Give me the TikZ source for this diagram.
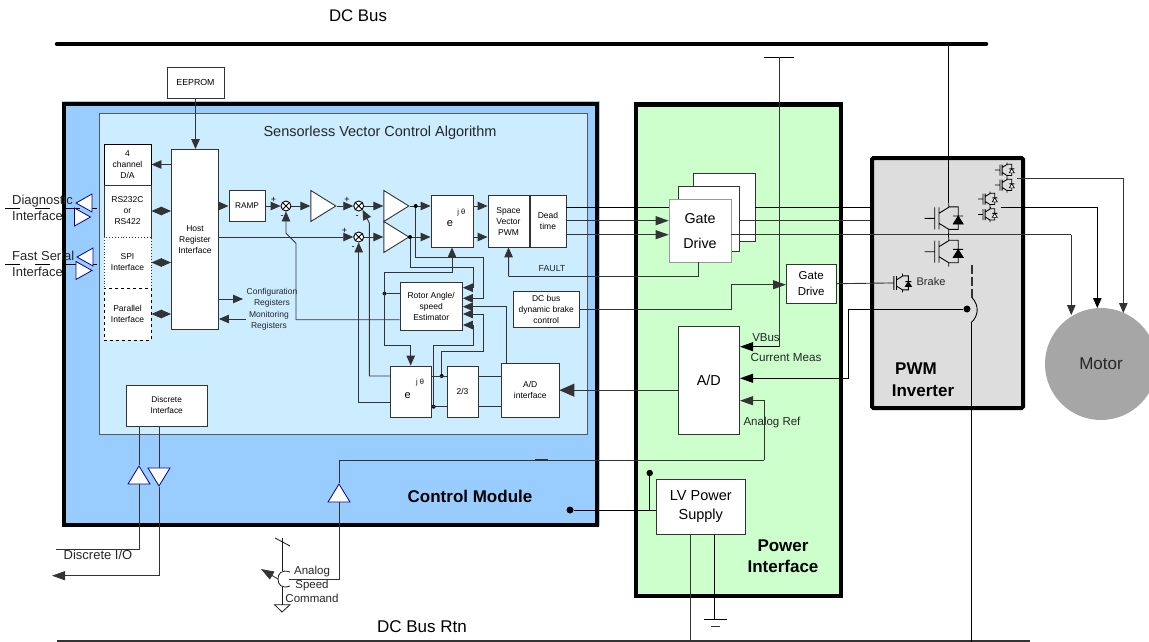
\documentclass[tikz,border=0pt]{standalone}
\usepackage{fontspec}
\setmainfont{Liberation Sans}
\usetikzlibrary{arrows.meta,shapes.geometric}
\definecolor{modulefill}{HTML}{99CCFF}
\definecolor{algofill}{HTML}{CCECFF}
\definecolor{powerfill}{HTML}{CCFFCC}
\definecolor{inverterfill}{HTML}{DDDDDD}
\definecolor{motorfill}{HTML}{A6A6A6}
\definecolor{bufline}{HTML}{000099}
\definecolor{wire}{HTML}{333333}
\tikzset{
    block/.style={rectangle,draw=black!80,line width=.9pt,fill=white,inner sep=0pt,align=center,font=\fontsize{8.5}{11}\selectfont},
    frame/.style={rectangle,draw=black,line width=4.5pt,inner sep=0pt},
    caption/.style={inner sep=0pt,align=center,text=black!85,font=\fontsize{8.5}{11}\selectfont},
    title/.style={inner sep=0pt,align=center,font=\bfseries\fontsize{17}{21}\selectfont},
    amp/.style={isosceles triangle,isosceles triangle stretches,draw=black!80,line width=.9pt,fill=white,inner sep=0pt,minimum height=25pt,minimum width=31pt},
    buf/.style={isosceles triangle,isosceles triangle stretches,draw=bufline,line width=.8pt,fill=white,inner sep=0pt,minimum height=18pt,minimum width=22pt},
    sumj/.style={circle,draw=black,line width=.9pt,fill=white,minimum size=10pt,inner sep=0pt,
        path picture={\draw[line width=.8pt] (path picture bounding box.north west) -- (path picture bounding box.south east)
            (path picture bounding box.north east) -- (path picture bounding box.south west);}},
    sign/.style={inner sep=0pt,font=\fontsize{9}{10}\selectfont},
    dot/.style={circle,fill=black,minimum size=#1,inner sep=0pt},
    dot/.default=4pt,
    sig/.style={draw=wire,line width=.9pt},
    pre/.style={sig,-{Triangle[length=10pt,width=8.5pt]}},
    prelong/.style={sig,-{Triangle[length=13pt,width=9pt]}},
    prebig/.style={sig,-{Triangle[length=15pt,width=13pt]}},
    bi/.style={sig,{Triangle[length=10pt,width=8.5pt]}-{Triangle[length=10pt,width=8.5pt]}},
    igbt/.pic={
        \coordinate (-g) at (-20,0);
        \coordinate (-c) at (4,-15);
        \coordinate (-e) at (4,15);
        \draw[line width=.9pt,black] (-g) -- (-10,0) (-10,-11) -- (-10,11) (-5.7,-11) -- (-5.7,11)
            (-5.7,-5) -- (4,-11) -- (-c) (-5.7,5) -- (4,11) -- (-e)
            (4,-11.5) -- (13.5,-11.5) -- (13.5,11) -- (4,11)
            (8.5,-2.3) -- (18.5,-2.3);
        \draw[line width=.7pt,pic actions] (13.5,-2.3) -- (18.5,5.7) -- (8.5,5.7) -- cycle;
    }
}
\begin{document}
\begin{tikzpicture}[x=1pt,y=-1pt]
    \useasboundingbox (0,0) rectangle (1149,642);

    \coordinate (busA) at (57,44);
    \coordinate (busB) at (986,44);
    \coordinate (rtnA) at (57,641);
    \coordinate (rtnB) at (1030,641);
    \draw[line width=4.5pt,line cap=round] (busA) -- (busB);
    \draw[line width=1.5pt,black!80] (rtnA) -- (rtnB);
    \node[inner sep=0pt,font=\fontsize{16.8}{18}\selectfont] (busname) at (358,16) {DC Bus};
    \node[inner sep=0pt,font=\fontsize{17}{18}\selectfont] (rtnname) at (422,627) {DC Bus Rtn};

    % control module
    \fill[modulefill] (62,101) rectangle (600,526);
    \node[frame,minimum width=533pt,minimum height=421pt] (module) at (330.5,314.5) {};
    \node[rectangle,draw=black!65,line width=1pt,fill=algofill,minimum width=488pt,minimum height=321pt,inner sep=0pt] (algo) at (343,273.5) {};
    \node[inner sep=0pt,text=black!85,font=\fontsize{14.5}{16}\selectfont] (algoname) at (380,133) {Sensorless Vector Control Algorithm};
    \node[title] (modulename) at (470,496) {Control Module};

    \node[block,minimum width=57pt,minimum height=31pt,font=\fontsize{8.8}{10}\selectfont] (eeprom) at (195.5,82.5) {EEPROM};
    \node[block,minimum width=47pt,minimum height=41pt,draw=black] (da) at (127.5,164.5) {4\\channel\\D/A};
    \node[block,minimum width=47pt,minimum height=52pt] (rs) at (127.5,211) {RS232C\\or\\RS422};
    \node[block,minimum width=47pt,minimum height=51pt,dotted] (spi) at (127.5,262.5) {SPI\\Interface};
    \node[block,minimum width=47pt,minimum height=52pt,dashed,draw=black] (par) at (127.5,314) {Parallel\\Interface};
    \node[block,minimum width=47pt,minimum height=180pt] (host) at (195,239.5) {Host\\Register\\Interface};
    \node[block,minimum width=36pt,minimum height=31pt,font=\fontsize{8.3}{10}\selectfont] (ramp) at (247,206) {RAMP};
    \node[sumj] (sumA) at (286,206) {};
    \node[amp,anchor=apex] (gainA) at (337,206) {};
    \node[sumj] (sumB) at (358.7,206) {};
    \node[sumj] (sumC) at (358.7,237) {};
    \node[amp,anchor=apex] (gainB) at (410,206) {};
    \node[amp,anchor=apex] (gainC) at (410,237) {};
    \node[block,minimum width=42pt,minimum height=51.5pt] (parkA) at (452,221.2) {};
    \node[block,minimum width=41pt,minimum height=51.5pt] (svm) at (508.5,221.2) {Space\\Vector\\PWM};
    \node[block,minimum width=36pt,minimum height=51.5pt] (dead) at (548,221.2) {Dead\\time};
    \node[block,minimum width=62.5pt,minimum height=47.5pt] (est) at (431.2,306.2) {Rotor Angle/\\speed\\Estimator};
    \node[block,minimum width=65.5pt,minimum height=36pt] (brake) at (546.2,309) {DC bus\\dynamic brake\\control};
    \node[block,minimum width=41.5pt,minimum height=51pt] (parkB) at (410.7,391.5) {};
    \node[block,minimum width=31pt,minimum height=51pt] (ratio) at (462.5,391.5) {2/3};
    \node[block,minimum width=57.5pt,minimum height=53.5pt] (adi) at (530.2,390.2) {A/D\\interface};
    \node[block,minimum width=81.5pt,minimum height=41pt,font=\fontsize{8.3}{11}\selectfont] (discrete) at (166.7,405.5) {Discrete\\Interface};

    \node[inner sep=0pt,font=\fontsize{11}{12}\selectfont] (eA) at (450,224) {e};
    \node[inner sep=0pt,font=\fontsize{7.5}{8}\selectfont] (thetaA) at (461.3,212.3) {j θ};
    \node[inner sep=0pt,font=\fontsize{11}{12}\selectfont] (eB) at (407.7,395.3) {e};
    \node[inner sep=0pt,font=\fontsize{7.5}{8}\selectfont] (thetaB) at (420,382.3) {j θ};

    \node[caption] (cfg) at (272,297.5) {Configuration\\Registers};
    \node[caption] (mon) at (269,321) {Monitoring\\Registers};
    \node[caption,font=\fontsize{8.8}{10}\selectfont] (fault) at (552,269) {FAULT};

    \node[sign] (pA) at (273.5,200) {+};
    \node[sign] (mA) at (282,217) {-};
    \node[sign] (pB) at (347,200) {+};
    \node[sign] (mB) at (357,217) {-};
    \node[sign] (pC) at (344.6,231) {+};
    \node[sign] (mC) at (353,248) {-};

    \draw[pre] (eeprom.south) -- (eeprom.south |- host.north);
    \draw[pre] (host.west |- da.east) -- (da.east);
    \draw[bi] (rs.east) -- (host.west |- rs.east);
    \draw[bi] (spi.east) -- (host.west |- spi.east);
    \draw[bi] (par.east) -- (host.west |- par.east);
    \draw[pre] (host.east |- ramp.west) -- (ramp.west);
    \draw[pre] (ramp.east) -- (sumA.west);
    \draw[pre] (sumA.east) -- (gainA.west);
    \draw[pre] (gainA.east) -- (sumB.west);
    \draw[pre] (sumB.east) -- (gainB.west);
    \draw[pre] (host.east |- sumC.west) -- (sumC.west);
    \draw[pre] (sumC.east) -- (gainC.west);
    \draw[pre] (gainB.east) -- (parkA.west |- gainB.east);
    \draw[pre] (gainC.east) -- (parkA.west |- gainC.east);
    \draw[pre] (parkA.east |- gainB.east) -- (svm.west |- gainB.east);
    \draw[pre] (parkA.east |- gainC.east) -- (svm.west |- gainC.east);
    \draw[pre] (host.east |- 243,299) -- (243,299);
    \draw[pre] (246,319) -- (host.east |- 246,319);

    \node[dot=4pt] (tapA) at (415.7,206) {};
    \node[dot=4pt] (tapB) at (410,237) {};
    \node[dot=4pt] (tapC) at (384.5,293.5) {};
    \node[dot=4pt] (tapD) at (441.7,376) {};
    \node[dot=4pt] (tapE) at (433.7,406.7) {};
    \draw[pre] (tapA) |- (483.3,257.7) |- (est.east |- 483,298.3);
    \draw[pre] (tapB) |- (473.3,267.7) |- (est.east |- 473,287.7);
    \draw[pre] (384.3,345) -- (410.7,345) -- (parkB.north -| 410.7,345);
    \draw[pre] (384.3,345) |- (452,272.7) -- (parkA.south);
    \draw[sig] (tapC) -- (est.west |- tapC);
    \draw[pre] (est.west |- 400,319.7) -- (296,319.7) -- (296,243.3) -- (286,233.3) -- (sumA.south);
    \draw[pre] (parkB.west |- 390,376) -- (369.3,376) -- (369.3,223) -- (sumB.south east);
    \draw[pre] (parkB.west |- 390,402) -| (sumC.south);
    \draw[sig] (parkB.east |- tapD) -- (ratio.west |- tapD);
    \draw[sig] (parkB.east |- tapE) -- (ratio.west |- tapE);
    \draw[sig] (ratio.east |- tapD) -- (adi.west |- tapD);
    \draw[sig] (ratio.east |- tapE) -- (adi.west |- tapE);
    \draw[pre] (tapD) |- (483.3,351) |- (est.east |- 483,314);
    \draw[pre] (tapE) |- (473.3,345) |- (est.east |- 473,325);
    \draw[pre] (adi.north -| 506.7,363) |- (est.east |- 506,306.7);

    \node[inner sep=0pt,anchor=west,align=left,text=black!85,font=\fontsize{13}{16}\selectfont] (diagname) at (12,208) {Diagnostic\\Interface};
    \node[inner sep=0pt,anchor=west,align=left,text=black!85,font=\fontsize{13}{16}\selectfont] (fastname) at (12,264) {Fast Serial\\Interface};
    \coordinate (diagend) at (5,208);
    \coordinate (fastend) at (5,264);
    \coordinate (diagstub) at (97,208);
    \coordinate (faststub) at (97,264);
    \draw[black,line width=.9pt,dash pattern=on 15pt off 15pt] (diagend) -- (diagstub);
    \draw[black,line width=.9pt,dash pattern=on 15pt off 15pt] (fastend) -- (faststub);
    \draw[black,line width=.9pt] (diagstub) -- ++(-6,0);
    \draw[black,line width=.9pt] (faststub) -- ++(-6,0);
    \node[buf,shape border rotate=180,anchor=apex,minimum height=16pt,minimum width=18pt] (diagL) at (75,203) {};
    \node[buf,anchor=apex,minimum height=16pt,minimum width=18pt] (diagR) at (91.5,217) {};
    \node[buf,shape border rotate=180,anchor=apex,minimum height=16pt,minimum width=18pt] (fastL) at (76,257) {};
    \node[buf,anchor=apex,minimum height=16pt,minimum width=18pt] (fastR) at (93,270.5) {};

    \node[buf,shape border rotate=90,anchor=apex] (ioUp) at (139,465) {};
    \node[buf,shape border rotate=270,anchor=apex] (ioDn) at (159,487) {};
    \node[buf,shape border rotate=90,anchor=apex] (refUp) at (339,483) {};
    \coordinate (ioA) at (56,549.3);
    \coordinate (ioB) at (52,575.7);
    \draw[sig] (discrete.south -| ioUp) -- (ioUp.north);
    \draw[sig] (ioUp.south) |- (ioA);
    \draw[sig] (discrete.south -| ioDn) -- (ioDn.north);
    \draw[prelong] (ioDn.south) |- (ioB);
    \node[inner sep=0pt,text=black!85,font=\fontsize{13}{14}\selectfont] (ioname) at (98,555) {Discrete I/O};

    % analog speed command
    \coordinate (potTop) at (282,538);
    \coordinate (potA) at (282,571);
    \coordinate (potB) at (282,587);
    \coordinate (potEnd) at (282,605);
    \coordinate (potWiper) at (278,579);
    \coordinate (potArrow) at (261,569);
    \coordinate (potOut) at (289,579.3);
    \draw[line width=.8pt,black!90] (potTop) -- (potA) (potB) -- (potEnd);
    \draw[line width=.8pt,black!90] (275,538) -- (290,546);
    \draw[line width=.8pt,black!90] (290,572) .. controls (281,569) and (278,574) .. (278,579) .. controls (278,585) and (282,589) .. (290,586);
    \draw[prelong] (potWiper) -- (potArrow);
    \draw[line width=.8pt,black!90] (274.5,604.7) -- (290,604.7) -- (282,612) -- cycle;
    \draw[sig] (refUp.south) |- (potOut);
    \node[caption,font=\fontsize{11.5}{14}\selectfont] (cmdname) at (312,584) {Analog\\Speed\\Command};

    % power interface
    \node[frame,fill=powerfill,minimum width=205pt,minimum height=491.5pt] (power) at (738.5,350) {};
    \node[title] (powername) at (783,556.5) {Power\\Interface};
    \node[block,minimum width=61.5pt,minimum height=68.5pt] (gateC) at (724.2,207.2) {};
    \node[block,minimum width=61.5pt,minimum height=65pt] (gateB) at (708.8,218.5) {};
    \node[block,minimum width=62pt,minimum height=62.5pt,draw=black!40,line width=.6pt,text=black,font=\fontsize{14.3}{25}\selectfont] (gateA) at (700,230.7) {Gate\\Drive};
    \node[block,minimum width=49.5pt,minimum height=39.5pt,font=\fontsize{11.5}{16}\selectfont] (gateS) at (811.2,283.7) {Gate\\Drive};
    \node[block,minimum width=61.5pt,minimum height=108pt,font=\fontsize{14.4}{16}\selectfont] (ad) at (708.8,380) {A/D};
    \node[block,minimum width=88.5pt,minimum height=54.5pt,font=\fontsize{14.5}{19}\selectfont] (lvps) at (700.8,507) {LV Power\\Supply};
    \node[caption,font=\fontsize{11.5}{12}\selectfont] (vbusname) at (766,338) {VBus};
    \node[caption,font=\fontsize{11.7}{12}\selectfont] (measname) at (786,357) {Current Meas};
    \node[caption,font=\fontsize{11.5}{12}\selectfont] (refname) at (772,423) {Analog Ref};

    \draw[sig,black] (dead.east |- 566,207.3) -- (gateA.west |- 566,207.3);
    \draw[prelong] (dead.east |- 566,220.7) -- (gateA.west |- 566,220.7);
    \draw[prelong] (dead.east |- 566,234.7) -- (gateA.west |- 566,234.7);
    \draw[pre] (508.7,276.7) -- (svm.south);
    \draw[sig] (508.7,276.7) -| (gateA.south -| 698,262);
    \draw[prebig] (ad.west |- adi.east) -- (adi.east);
    \draw[sig] (brake.east) -| (731,284.7);
    \draw[prelong] (731,284.7) -- (gateS.west |- 731,284.7);

    % pwm inverter
    \node[frame,fill=inverterfill,line width=4pt,rounded corners=1.5pt,minimum width=151pt,minimum height=250pt] (inverter) at (947.5,283) {};
    \node[title] (invA) at (916,369) {PWM};
    \node[title] (invB) at (923,391) {Inverter};
    \pic[fill=black] (swA) at (944.7,218.3) {igbt};
    \pic[fill=black] (swB) at (944.7,251.7) {igbt};
    \pic[fill=black,scale=.62] (swC) at (900,283) {igbt};
    \pic[fill=white,scale=.5] (swD) at (1005,170) {igbt};
    \pic[fill=white,scale=.5] (swE) at (1005,185) {igbt};
    \pic[fill=white,scale=.5] (swF) at (988,199) {igbt};
    \pic[fill=white,scale=.5] (swG) at (988,214.5) {igbt};
    \node[caption,font=\fontsize{11}{12}\selectfont] (brakename) at (931,282) {Brake};

    \node[circle,fill=motorfill,minimum size=112pt,inner sep=0pt,font=\fontsize{17}{18}\selectfont,text=black!85] (motor) at (1101,364) {Motor};
    \coordinate (phA) at (1071.3,234.7);
    \draw[sig,black] (gateC.east |- 755,207.3) -- (inverter.west |- 755,207.3);
    \draw[sig,line width=1.2pt] (gateB.east |- 740,220.7) -- (inverter.west |- 740,220.7);
    \draw[sig] (gateA.east |- phA) -- (phA);
    \draw[pre] (phA) -- (1071.3,315);
    \draw[pre,black] (1000.7,207.3) -| (1097.3,308);
    \draw[pre] (1017,178.3) -| (1123.3,313);
    \draw[sig,black] (swA-c |- busA) -- (swA-c);
    \draw[sig,black] (swA-e) -- (swB-c);
    \draw[sig] (gateS.east) -- (swC-g);
    \draw[sig,black] (swD-e) -- (swE-c);
    \draw[sig,black] (swF-e) -- (swG-c);

    % vbus, current and supply wiring
    \coordinate (vbusTap) at (779,57);
    \draw[sig,black] (764,57) -- (794,57);
    \draw[sig] (vbusTap) -- (779,346.7);
    \draw[prelong,black] (779,346.7) -- (ad.east |- 779,346.7);
    \node[dot=7pt] (sense) at (967,309) {};
    \draw[prelong,black] (sense) -| (848.5,378.3) -- (ad.east |- 848,378.3);
    \draw[line width=1.9pt,black!80,dash pattern=on 9pt off 3pt] (972.3,265) -- (972.3,298);
    \draw[line width=.9pt,black] (972.3,298) .. controls (979,305) and (979,316) .. (971,322.7);
    \draw[sig,black] (971.7,322.7) -- (971.7,642);
    \draw[prelong] (764,460) -- (764,400.7) -- (ad.east |- 764,400.7);
    \draw[sig] (refUp.north) |- (764,460);
    \draw[line width=1.6pt,black!80] (535,460) -- (548,460);

    \node[dot=7pt] (modsup) at (570,510) {};
    \node[dot=6.5pt] (pwrsup) at (649.7,473) {};
    \coordinate (gndtop) at (714.3,619);
    \draw[sig,black] (modsup) -- (lvps.west |- modsup);
    \draw[sig,black] (pwrsup) -- (pwrsup |- modsup);
    \draw[sig] (lvps.south -| 690.7,534) -- (690.7,642);
    \draw[sig,black] (lvps.south -| gndtop) -- (gndtop);
    \draw[sig,black] (704,619) -- (727,619);
    \draw[sig] (711,626) -- (720,626);
\end{tikzpicture}
\end{document}
